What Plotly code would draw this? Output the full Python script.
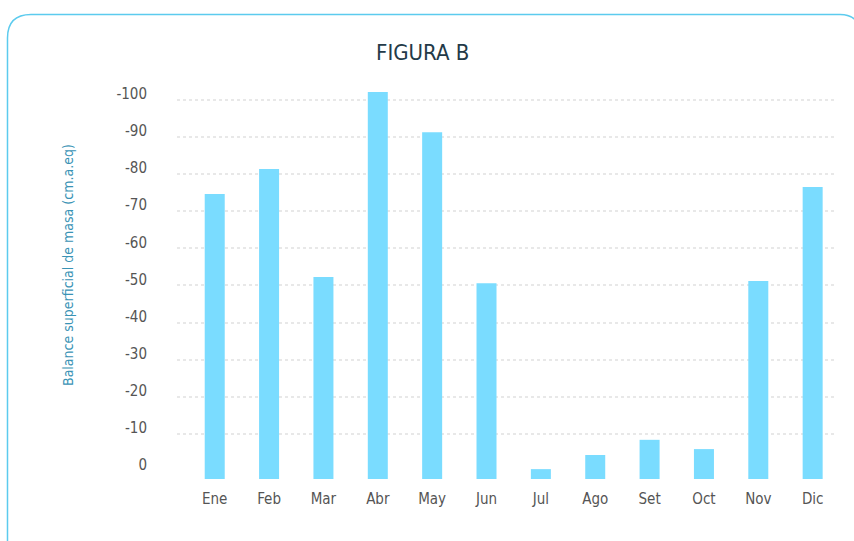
import plotly.graph_objects as go

months = ["Ene", "Feb", "Mar", "Abr", "May", "Jun", "Jul", "Ago", "Set", "Oct", "Nov", "Dic"]
values = [-74.6, -81.4, -52.3, -102.1, -91.3, -50.6, -0.5, -4.3, -8.4, -5.9, -51.2, -76.5]
y_ticks = [-100, -90, -80, -70, -60, -50, -40, -30, -20, -10, 0]
y_tick_labels = ["-100", "-90", "-80", "-70", "-60", "-50", "-40", "-30", "-20", "-10", "0"]
grid_vals = [-100, -90, -80, -70, -60, -50, -40, -30, -20, -10]

axis_bottom = 2.16
axis_top = -104.0

FONT = "Liberation Sans Narrow, DejaVu Sans Condensed, Arial Narrow, sans-serif"

W, H = 854, 541
L, R, T, B = 177, 19, 85, 62
PW, PH = W - L - R, H - T - B

fig = go.Figure()
fig.add_trace(go.Bar(
    x=list(range(len(months))),
    y=[v - axis_bottom for v in values],
    base=axis_bottom,
    width=0.368,
    marker=dict(color="#7adcff", line=dict(width=0)),
    showlegend=False,
    hoverinfo="skip",
))

def px(x, y):
    return ((x - L) / PW, (H - B - y) / PH)

def P(x, y):
    a, b = px(x, y)
    return f"{a:.5f},{b:.5f}"

path = (
    f"M {P(7.5, 548)} L {P(7.5, 38)} Q {P(7.5, 14.5)} {P(31, 14.5)} "
    f"L {P(840, 14.5)} Q {P(857, 14.5)} {P(860, 30)} L {P(860, 548)}"
)

fig.update_layout(
    width=W, height=H,
    margin=dict(l=L, r=R, t=T, b=B, autoexpand=False),
    paper_bgcolor="white", plot_bgcolor="white",
    font=dict(family=FONT, color="#555555", size=15),
    title=dict(text="FIGURA B", x=0.495, xanchor="center", y=1 - 52 / H, yanchor="middle",
               font=dict(family=FONT, size=22, color="#233a48")),
    xaxis=dict(
        tickmode="array", tickvals=list(range(len(months))), ticktext=months,
        range=[-0.694, 11.411], showgrid=False, zeroline=False, showline=False,
        ticks="outside", ticklen=6, tickcolor="rgba(0,0,0,0)",
        tickfont=dict(family=FONT, size=15, color="#555555"),
    ),
    yaxis=dict(
        range=[axis_bottom, axis_top],
        tickmode="array", tickvals=y_ticks, ticktext=y_tick_labels,
        showgrid=False, zeroline=False, showline=False,
        ticks="outside", ticklen=26, tickcolor="rgba(0,0,0,0)",
        ticklabelshift=6,
        tickfont=dict(family=FONT, size=15, color="#555555"),
        minor=dict(tickmode="array", tickvals=grid_vals + [axis_bottom], showgrid=True,
                   gridcolor="#e8e8e8", gridwidth=1.5, griddash="3px,3px", ticks=""),
    ),
    shapes=[dict(type="path", xref="paper", yref="paper", path=path,
                 line=dict(color="#5ccbee", width=1.5), layer="above")],
    annotations=[dict(text="Balance superficial de masa (cm.a.eq)", textangle=-90,
                      xref="paper", yref="paper", x=(68 - L) / PW, y=(H - B - 265) / PH,
                      xanchor="center", yanchor="middle", showarrow=False,
                      font=dict(family=FONT, size=14, color="#3a93b5"))],
)

fig.write_html(
    "out.html",
    config={"displayModeBar": False},
    post_script="document.body.style.margin='0';document.body.style.overflow='hidden';",
)
